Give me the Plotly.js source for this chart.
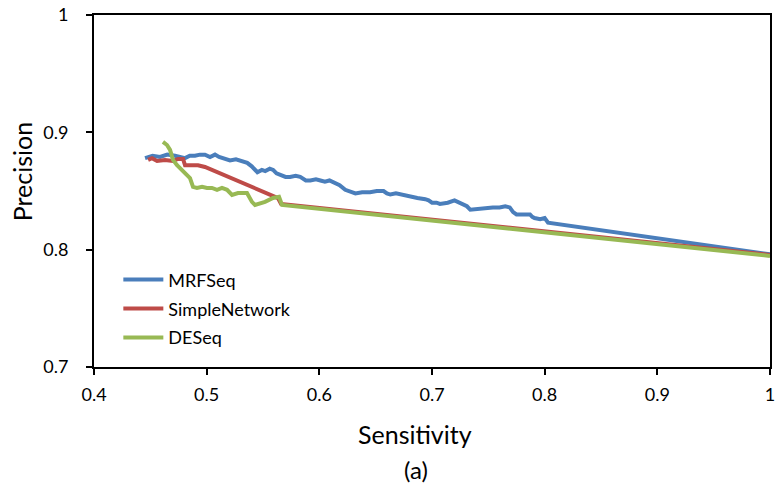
<!DOCTYPE html>
<html>
<head>
<meta charset="utf-8">
<script src="https://cdn.plot.ly/plotly-3.0.1.min.js"></script>
<style>html,body{margin:0;padding:0;background:#fff;}#chart{width:778px;height:490px;}</style>
</head>
<body>
<div id="chart"></div>
<script>
// Series names
const seriesNames = ["MRFSeq", "SimpleNetwork", "DESeq"];

// MRFSeq (Sensitivity, Precision)
const mrfX = [0.4453,0.452,0.4586,0.465,0.4719,0.476,0.4808,0.485,0.4896,0.494,0.4985,0.503,0.5074,0.511,0.5136,0.517,0.5207,0.526,0.530,0.533,0.536,0.540,0.545,0.549,0.552,0.556,0.559,0.562,0.565,0.570,0.574,0.579,0.583,0.588,0.592,0.597,0.601,0.605,0.609,0.614,0.618,0.623,0.628,0.632,0.638,0.645,0.651,0.657,0.660,0.663,0.668,0.672,0.676,0.680,0.687,0.694,0.697,0.700,0.704,0.707,0.714,0.720,0.724,0.727,0.731,0.734,0.741,0.747,0.754,0.760,0.765,0.769,0.772,0.775,0.781,0.787,0.789,0.791,0.796,0.800,0.803,1.0];
const mrfY = [0.878,0.880,0.879,0.881,0.880,0.879,0.878,0.880,0.880,0.881,0.881,0.879,0.881,0.879,0.878,0.877,0.876,0.877,0.876,0.875,0.874,0.871,0.866,0.868,0.867,0.869,0.868,0.865,0.864,0.862,0.862,0.863,0.862,0.859,0.859,0.860,0.859,0.858,0.859,0.857,0.855,0.851,0.849,0.848,0.849,0.849,0.850,0.850,0.848,0.847,0.848,0.847,0.846,0.845,0.844,0.843,0.842,0.840,0.840,0.839,0.840,0.842,0.840,0.839,0.837,0.834,0.835,0.835,0.836,0.836,0.837,0.836,0.832,0.830,0.830,0.830,0.828,0.827,0.826,0.827,0.823,0.796];

// SimpleNetwork
const snX = [0.448,0.4515,0.456,0.463,0.470,0.4746,0.479,0.4808,0.4923,0.4985,0.5633,0.566,1.0];
const snY = [0.8765,0.878,0.8756,0.8765,0.8756,0.8773,0.8773,0.872,0.872,0.8705,0.844,0.839,0.7955];

// DESeq
const deX = [0.4612,0.4648,0.4675,0.4701,0.4737,0.4781,0.4808,0.4852,0.4879,0.4914,0.4959,0.5003,0.5047,0.5092,0.5136,0.5181,0.5225,0.5278,0.5358,0.5402,0.5429,0.5518,0.5589,0.5642,0.5669,1.0];
const deY = [0.8918,0.8892,0.885,0.8765,0.872,0.868,0.8654,0.861,0.8535,0.8526,0.8535,0.8526,0.8526,0.851,0.8526,0.851,0.8466,0.8483,0.8483,0.8407,0.8381,0.8407,0.8441,0.845,0.8381,0.7947];

// Axis ticks
const xTicks = [0.4,0.5,0.6,0.7,0.8,0.9,1];
const xTickText = ["0.4","0.5","0.6","0.7","0.8","0.9","1"];
const yTicks = [0.7,0.8,0.9,1];
const yTickText = ["0.7","0.8","0.9","1"];

const colors = ["#4A7EBB", "#BE4B48", "#98B954"];
const FONT = "Lato, 'Open Sans', sans-serif";

const traces = [
  {x: mrfX, y: mrfY, name: seriesNames[0], legendgroup: "a", mode: "lines", line: {color: colors[0], width: 4}},
  {x: snX, y: snY, name: seriesNames[1], legendgroup: "b", mode: "lines", line: {color: colors[1], width: 4}},
  {x: deX, y: deY, name: seriesNames[2], legendgroup: "c", mode: "lines", line: {color: colors[2], width: 4}}
];

const layout = {
  width: 778, height: 490,
  margin: {l: 94, r: 8, t: 15, b: 123},
  paper_bgcolor: "#fff", plot_bgcolor: "#fff",
  font: {family: FONT, color: "#000", size: 18},
  showlegend: true,
  legend: {x: 0.036, xanchor: "left", y: 0.30, yanchor: "top", bgcolor: "rgba(0,0,0,0)",
           font: {family: FONT, size: 18, color: "#000"}, tracegroupgap: 2.5, itemwidth: 40},
  xaxis: {range: [0.4, 1], tickvals: xTicks, ticktext: xTickText, showgrid: false, zeroline: false,
          showline: true, linecolor: "#000", linewidth: 2, mirror: true, ticklabelstandoff: 4,
          ticks: "outside", ticklen: 6, tickwidth: 2, tickcolor: "#000", fixedrange: true},
  yaxis: {range: [0.7, 1], tickvals: yTicks, ticktext: yTickText, showgrid: false, zeroline: false,
          showline: true, linecolor: "#000", linewidth: 2, mirror: true, ticklabelstandoff: 14,
          ticks: "outside", ticklen: 6, tickwidth: 2, tickcolor: "#000", fixedrange: true},
  annotations: [
    {text: "Precision", xref: "paper", yref: "paper", x: -0.106, y: 0.554, textangle: -90, showarrow: false,
     xanchor: "center", yanchor: "middle", font: {family: FONT, size: 25, color: "#000"}},
    {text: "Sensitivity", xref: "paper", yref: "paper", x: 0.475, y: -0.19, showarrow: false,
     xanchor: "center", yanchor: "middle", font: {family: FONT, size: 25, color: "#000"}},
    {text: "(a)", xref: "paper", yref: "paper", x: 0.477, y: -0.29, showarrow: false,
     xanchor: "center", yanchor: "middle", font: {family: FONT, size: 24, color: "#000"}}
  ]
};

Plotly.newPlot("chart", traces, layout, {displayModeBar: false, staticPlot: true});
</script>
</body>
</html>
